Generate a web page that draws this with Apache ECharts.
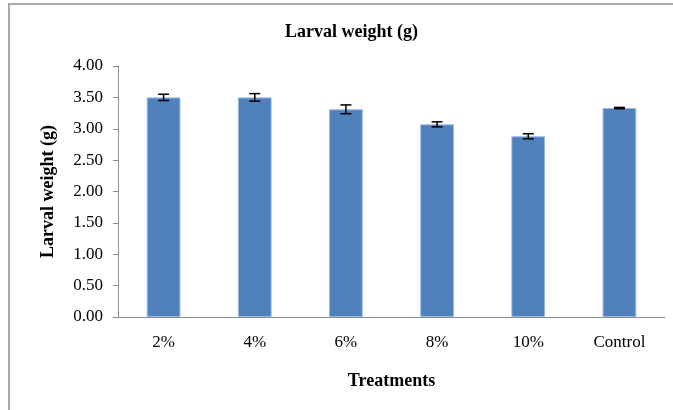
<!DOCTYPE html>
<html>
<head>
<meta charset="utf-8">
<script src="https://cdn.jsdelivr.net/npm/echarts@6/dist/echarts.min.js"></script>
<style>
  html, body { margin: 0; padding: 0; background: #fff; }
  #frame { position: absolute; left: 8px; top: 3px; width: 680px; height: 420px;
           border-left: 2px solid #a8a8a8; border-top: 2px solid #a8a8a8; }
  #main { position: absolute; left: 0; top: 0; width: 673px; height: 410px; }
</style>
</head>
<body>
<div id="frame"></div>
<div id="main"></div>
<script>
// data
const treatments = ["2%", "4%", "6%", "8%", "10%", "Control"];
const weights = [3.50, 3.50, 3.31, 3.07, 2.88, 3.33];
const errors = [0.05, 0.06, 0.07, 0.04, 0.04, 0.01];

const font = "'Liberation Serif', 'DejaVu Serif', serif";
const chart = echarts.init(document.getElementById("main"));

chart.setOption({
  animation: false,
  title: {
    text: "Larval weight (g)",
    left: 280,
    top: 18,
    textStyle: { fontFamily: font, fontSize: 18, fontWeight: "bold", color: "#000" },
  },
  grid: { left: 118, right: 8, top: 66, bottom: 93 },
  xAxis: {
    type: "category",
    data: treatments,
    name: "Treatments",
    nameLocation: "middle",
    nameGap: 55,
    nameTextStyle: { fontFamily: font, fontSize: 18, fontWeight: "bold", color: "#000" },
    axisLine: { lineStyle: { color: "#8c8c8c", width: 1 } },
    axisTick: { show: false },
    axisLabel: { fontFamily: font, fontSize: 17, color: "#000", margin: 17 },
  },
  yAxis: {
    type: "value",
    min: 0,
    max: 4,
    interval: 0.5,
    name: "Larval weight (g)",
    nameLocation: "middle",
    nameGap: 61,
    nameTextStyle: { fontFamily: font, fontSize: 18, fontWeight: "bold", color: "#000" },
    axisLine: { show: true, lineStyle: { color: "#8c8c8c", width: 1 } },
    axisTick: { show: true, length: 5, lineStyle: { color: "#8c8c8c" } },
    splitLine: { show: false },
    axisLabel: {
      fontFamily: font, fontSize: 17, color: "#000", margin: 15,
      formatter: (v) => v.toFixed(2),
    },
  },
  series: [
    {
      type: "bar",
      data: weights,
      barWidth: "37%",
      itemStyle: { color: "#4f81bd", borderColor: "#9db8dc", borderWidth: 1 },
    },
    {
      type: "custom",
      data: weights.map((w, i) => [i, w - errors[i], w + errors[i]]),
      renderItem: (params, api) => {
        const lo = api.coord([api.value(0), api.value(1)]);
        const hi = api.coord([api.value(0), api.value(2)]);
        const hw = 5.5;
        const style = { stroke: "#000", lineWidth: 1.5 };
        return {
          type: "group",
          children: [
            { type: "line", shape: { x1: lo[0], y1: lo[1], x2: hi[0], y2: hi[1] }, style },
            { type: "line", shape: { x1: lo[0] - hw, y1: lo[1], x2: lo[0] + hw, y2: lo[1] }, style },
            { type: "line", shape: { x1: hi[0] - hw, y1: hi[1], x2: hi[0] + hw, y2: hi[1] }, style },
          ],
        };
      },
      z: 10,
    },
  ],
});
</script>
</body>
</html>
